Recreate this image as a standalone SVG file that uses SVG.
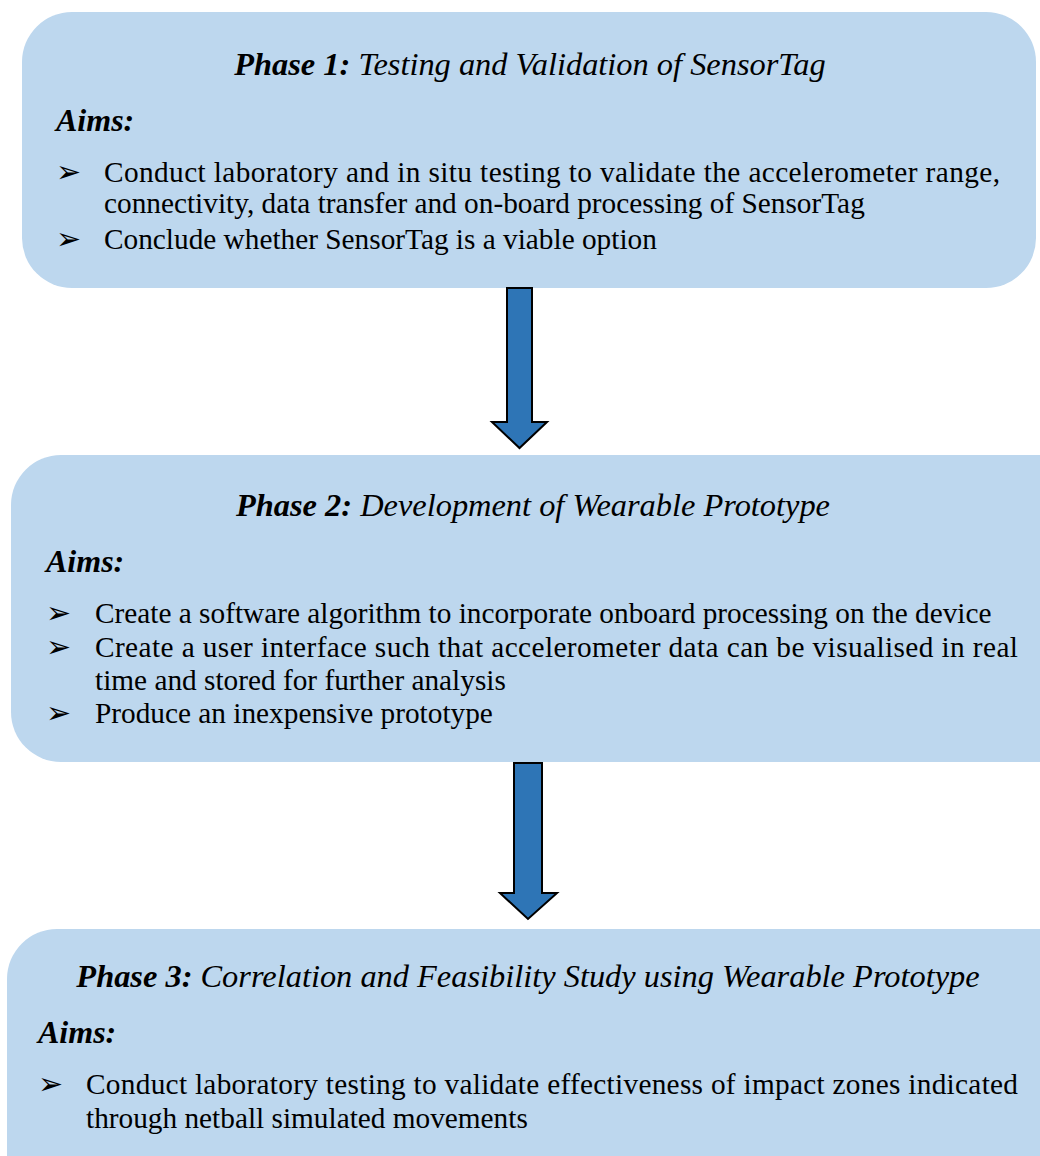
<svg xmlns="http://www.w3.org/2000/svg" width="1040" height="1156" viewBox="0 0 1040 1156">
<defs>
<style>
.box{fill:#BDD7EE;}
.arrow{fill:#2E75B6;stroke:#000;stroke-width:2;stroke-linejoin:miter;}
text{font-family:"Liberation Serif","Times New Roman",serif;fill:#000;}
.title{font-size:32.4px;font-style:italic;text-anchor:middle;}
.b{font-weight:bold;}
.aims{font-size:32px;font-style:italic;font-weight:bold;}
.body{font-size:29.3px;}
.bul{font-family:"DejaVu Sans",sans-serif;font-size:30px;}
</style>
</defs>
<rect width="1040" height="1156" fill="#fff"/>
<g id="phase1">
<rect class="box" x="22" y="12" width="1014" height="276" rx="50" ry="50"/>
<text class="title" x="530" y="75"><tspan class="b">Phase 1:</tspan> Testing and Validation of SensorTag</text>
<text class="aims" x="56" y="131">Aims:</text>
<text class="bul" x="56" y="182">➢</text>
<text class="body" x="104" y="182" textLength="896" lengthAdjust="spacing">Conduct laboratory and in situ testing to validate the accelerometer range,</text>
<text class="body" x="104" y="213">connectivity, data transfer and on-board processing of SensorTag</text>
<text class="bul" x="56" y="249">➢</text>
<text class="body" x="104" y="249">Conclude whether SensorTag is a viable option</text>
</g>
<g id="phase2">
<rect class="box" x="11" y="455" width="1080" height="307" rx="50" ry="50"/>
<text class="title" x="533" y="516"><tspan class="b">Phase 2:</tspan> Development of Wearable Prototype</text>
<text class="aims" x="46" y="572">Aims:</text>
<text class="bul" x="46" y="623">➢</text>
<text class="body" x="95" y="623">Create a software algorithm to incorporate onboard processing on the device</text>
<text class="bul" x="46" y="657">➢</text>
<text class="body" x="95" y="657" textLength="923" lengthAdjust="spacing">Create a user interface such that accelerometer data can be visualised in real</text>
<text class="body" x="95" y="690">time and stored for further analysis</text>
<text class="bul" x="46" y="723">➢</text>
<text class="body" x="95" y="723">Produce an inexpensive prototype</text>
</g>
<g id="phase3">
<rect class="box" x="7" y="929" width="1090" height="280" rx="50" ry="50"/>
<text class="title" x="528" y="987"><tspan class="b">Phase 3:</tspan> Correlation and Feasibility Study using Wearable Prototype</text>
<text class="aims" x="38" y="1043">Aims:</text>
<text class="bul" x="38" y="1094">➢</text>
<text class="body" x="86" y="1094" textLength="932" lengthAdjust="spacing">Conduct laboratory testing to validate effectiveness of impact zones indicated</text>
<text class="body" x="86" y="1128">through netball simulated movements</text>
</g>
<g id="connectors">
<polygon class="arrow" points="507,288 532,288 532,422 547,422 519.5,448 492,422 507,422"/>
<polygon class="arrow" points="514,763 542,763 542,893 557,893 528,919 500,893 514,893"/>
</g>
</svg>
